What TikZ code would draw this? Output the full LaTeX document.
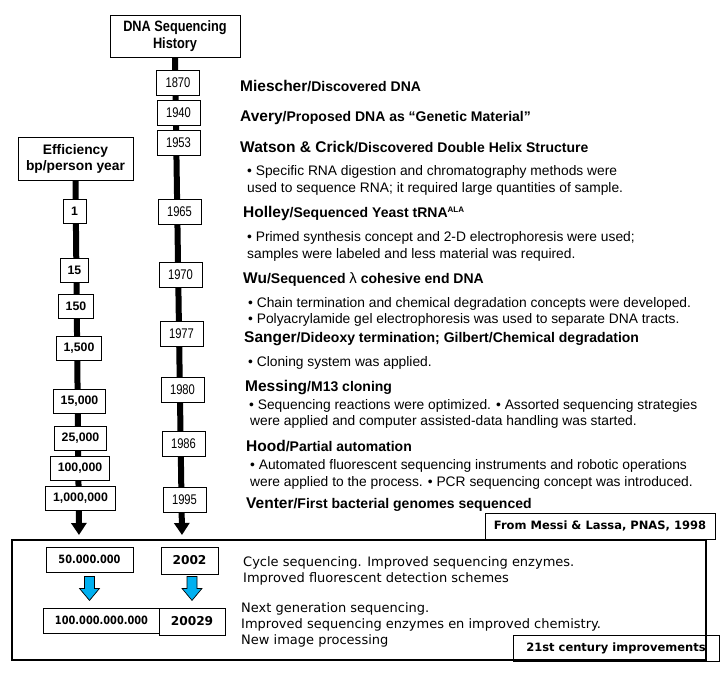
\documentclass[tikz,border=0pt]{standalone}
\usepackage{fontspec}
\setmainfont{Liberation Sans}
\newfontfamily\djv{DejaVu Sans}
\newfontfamily\djvnarrow[FakeStretch=0.86]{DejaVu Sans}
\newfontfamily\yearface[FakeStretch=0.8]{Liberation Sans}
\newfontfamily\headface[FakeStretch=0.85]{Liberation Sans}
\usetikzlibrary{arrows.meta,calc}

\definecolor{arrowblue}{RGB}{0,176,240}

% name in larger type, then /description
\newcommand\who[2]{{\fontsize{15.5}{18}\selectfont #1}/#2}
% fat blue arrow hanging below a point
\newcommand\blockarrow[1]{\draw[bluearrow] (#1) ++(-5,0) -- ++(10,0) -- ++(0,12) -- ++(5,0) -- ++(-10,12) -- ++(-10,-12) -- ++(5,0) -- cycle;}

\begin{document}
\begin{tikzpicture}[x=1pt,y=-1pt,
    titlebox/.style={draw, fill=white, line width=0.9pt, align=center, inner sep=0pt,
      font=\bfseries\fontsize{13.8}{16}\selectfont},
    yearbox/.style={draw, fill=white, line width=0.8pt, minimum width=43pt, minimum height=25pt,
      inner sep=0pt, font=\yearface\fontsize{14}{16}\selectfont},
    ratebox/.style={draw, fill=white, line width=0.8pt, minimum width=23pt, minimum height=24pt,
      inner xsep=7.5pt, inner ysep=0pt, font=\bfseries\fontsize{12.3}{14}\selectfont},
    timeline/.style={line width=6pt, -{Triangle[width=15pt,length=12pt]}},
    event/.style={anchor=base west, inner sep=0pt, font=\bfseries\fontsize{14}{17}\selectfont},
    note/.style={anchor=base west, inner sep=0pt, font=\fontsize{13.8}{16}\selectfont},
    newtext/.style={anchor=base west, inner sep=0pt, font=\djv\fontsize{13}{16}\selectfont},
    newbox/.style={draw, fill=white, line width=0.8pt, inner sep=0pt,
      font=\djv\bfseries\fontsize{12.2}{14}\selectfont},
    numbox/.style={newbox, font=\djvnarrow\bfseries\fontsize{11.4}{14}\selectfont},
    srcbox/.style={draw, line width=1pt, inner sep=0pt, font=\djv\bfseries\fontsize{11.5}{14}\selectfont},
    bluearrow/.style={draw=black, fill=arrowblue, line width=0.7pt, line join=miter}]
  \useasboundingbox (0,0) rectangle (726,677);

  % heads of the two timelines
  \node[titlebox, font=\headface\bfseries\fontsize{15}{17}\selectfont, minimum width=130pt, minimum height=42pt]
    (hist) at (175,36) {DNA Sequencing\\History};
  \node[titlebox, minimum width=115pt, minimum height=43pt] (eff) at (75.5,158.5) {Efficiency\\bp/person year};
  \coordinate (histend) at (182,535);
  \coordinate (effend) at (79,535);
  \draw[timeline] (hist.south) -- (histend);
  \draw[timeline] (eff.south) -- (effend);

  % years
  \foreach \yr/\x/\y in {1870/178/82.5, 1940/178.5/112.5, 1953/178.5/142.5, 1965/179.5/211.5,
      1970/180.5/275, 1977/181.5/334, 1980/182.5/389.5, 1986/183.5/444, 1995/184.5/500}
    \node[yearbox] (y\yr) at (\x,\y) {\yr};

  % efficiency values
  \foreach \n/\v/\x/\y in {r1/1/74.5/211.5, r15/15/74.5/270, r150/150/76/306, r1500/{1,500}/79/348.5,
      r15k/{15,000}/79.5/401, r25k/{25,000}/80.5/438, r100k/{100,000}/80/468, r1m/{1,000,000}/80.5/498}
    \node[ratebox] (\n) at (\x,\y) {\v};

  % events
  \node[event] (ev1870) at (240,91.7) {\who{Miescher}{Discovered DNA}};
  \node[event] (ev1940) at (240,121.7) {\who{Avery}{Proposed DNA as “Genetic Material”}};
  \node[event] (ev1953) at (240,152.3) {\who{Watson \& Crick}{Discovered Double Helix Structure}};
  \node[note] (nt1953a) at (247,175.7) {• Specific RNA digestion and chromatography methods were};
  \node[note] (nt1953b) at (247,192.3) {used to sequence RNA; it required large quantities of sample.};
  \node[event] (ev1965) at (243,217.7) {\who{Holley}{Sequenced Yeast tRNA\raisebox{5.5pt}{\fontsize{8}{9}\selectfont ALA}}};
  \node[note] (nt1965a) at (247,241.7) {• Primed synthesis concept and 2-D electrophoresis were used;};
  \node[note] (nt1965b) at (247,258.3) {samples were labeled and less material was required.};
  \node[event] (ev1970) at (243,283.3) {\who{Wu}{Sequenced {\mdseries\fontsize{15}{17}\selectfont λ} cohesive end DNA}};
  \node[note] (nt1970a) at (248,307.3) {• Chain termination and chemical degradation concepts were developed.};
  \node[note] (nt1970b) at (248,323.3) {• Polyacrylamide gel electrophoresis was used to separate DNA tracts.};
  \node[event] (ev1977) at (244,342.7) {\who{Sanger}{Dideoxy termination; Gilbert/Chemical degradation}};
  \node[note] (nt1977) at (248,366.7) {• Cloning system was applied.};
  \node[event] (ev1980) at (245,391.7) {\who{Messing}{M13 cloning}};
  \node[note] (nt1980a) at (249,409.3) {• Sequencing reactions were optimized. • Assorted sequencing strategies};
  \node[note] (nt1980b) at (250,425.7) {were applied and computer assisted-data handling was started.};
  \node[event] (ev1986) at (246,451) {\who{Hood}{Partial automation}};
  \node[note] (nt1986a) at (250,469.3) {• Automated fluorescent sequencing instruments and robotic operations};
  \node[note] (nt1986b) at (250,486) {were applied to the process. • PCR sequencing concept was introduced.};
  \node[event] (ev1995) at (246,508.3) {\who{Venter}{First bacterial genomes sequenced}};

  \node[srcbox, minimum width=230pt, minimum height=26pt] (src) at (600,526) {From Messi \& Lassa, PNAS, 1998};

  % 21st century
  \node[draw, line width=1.2pt, minimum width=694pt, minimum height=120pt, inner sep=0pt] (recent) at (359,600) {};
  \node[numbox, minimum width=87pt, minimum height=25pt] (b50) at (89.5,559.5) {50.000.000};
  \node[newbox, minimum width=57pt, minimum height=27pt] (y2002) at (189.5,560.5) {2002};
  \node[numbox, minimum width=117pt, minimum height=25pt] (b100) at (101.5,620.5) {100.000.000.000};
  \node[newbox, minimum width=66pt, minimum height=27pt] (y20029) at (192,621.5) {20029};
  \blockarrow{$(b50.south)+(0,4)$}
  \blockarrow{$(y2002.south)+(2.5,2)$}

  \node[newtext] (nw1a) at (243,566.7) {Cycle sequencing. Improved sequencing enzymes.};
  \node[newtext] (nw1b) at (243,582.7) {Improved fluorescent detection schemes};
  \node[newtext] (nw2a) at (241,612.7) {Next generation sequencing.};
  \node[newtext] (nw2b) at (241,628.7) {Improved sequencing enzymes en improved chemistry.};
  \node[newtext] (nw2c) at (241,644) {New image processing};

  \node[srcbox, minimum width=206pt, minimum height=26pt] (cent) at (616,648) {21st century improvements};
\end{tikzpicture}
\end{document}
